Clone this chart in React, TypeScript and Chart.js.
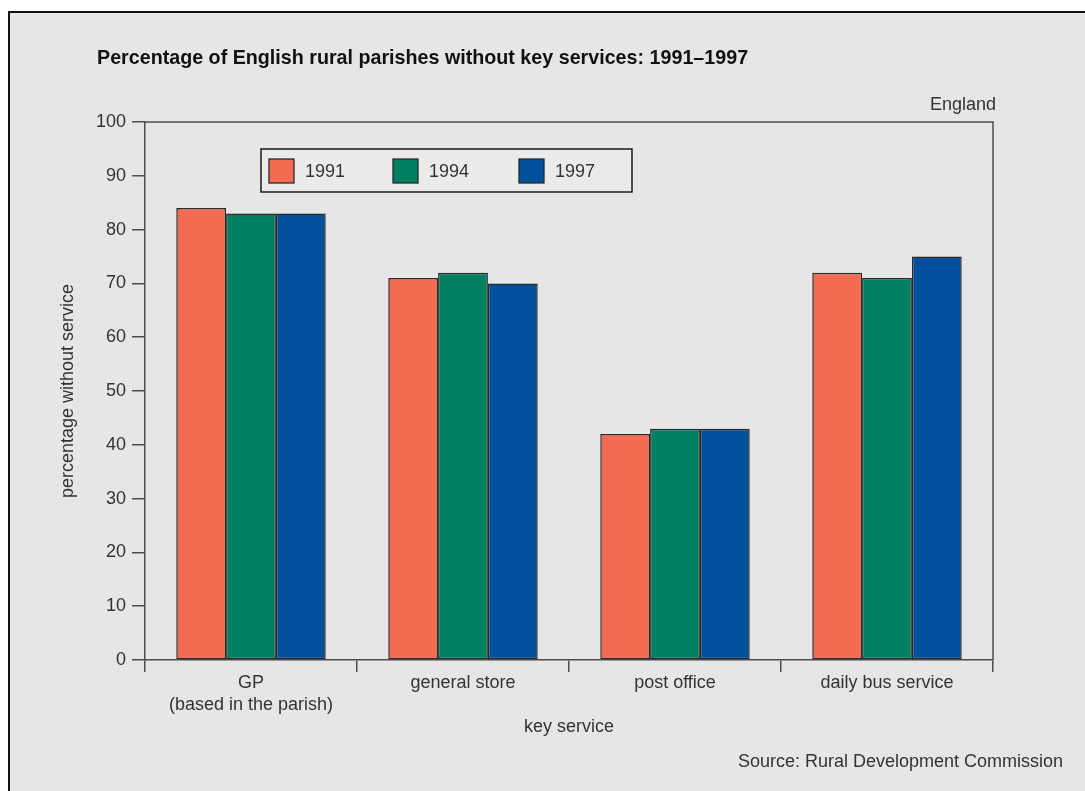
import React, { useEffect, useRef } from "react";
import { Chart, registerables } from "chart.js";

Chart.register(...registerables);

const categories: (string | string[])[] = [
  ["GP", "(based in the parish)"],
  "general store",
  "post office",
  "daily bus service",
];
const years = ["1991", "1994", "1997"];
const values1991 = [84, 71, 42, 72];
const values1994 = [83, 72, 43, 71];
const values1997 = [83, 70, 43, 75];
const colors = ["#f26b52", "#008060", "#004f9a"];
const yTicks = [0, 10, 20, 30, 40, 50, 60, 70, 80, 90, 100];

const TITLE = "Percentage of English rural parishes without key services: 1991\u20131997";
const FONT = "'Liberation Sans', Arial, Helvetica, sans-serif";
const TEXT = "#333333";
const AXIS = "#4d4d4d";

const framePlugin = {
  id: "frame",
  beforeDraw(chart: any) {
    const { ctx, width, height } = chart;
    ctx.save();
    ctx.fillStyle = "#ffffff";
    ctx.fillRect(0, 0, width, height);
    ctx.fillStyle = "#e6e6e6";
    ctx.fillRect(10, 13, width - 10, height - 13);
    ctx.strokeStyle = "#111111";
    ctx.lineWidth = 2;
    ctx.beginPath();
    ctx.moveTo(9, height);
    ctx.lineTo(9, 12);
    ctx.lineTo(width, 12);
    ctx.stroke();
    ctx.restore();
  },
  afterDraw(chart: any) {
    const { ctx, chartArea } = chart;
    const { left, right, top, bottom } = chartArea;
    ctx.save();
    ctx.strokeStyle = AXIS;
    ctx.lineWidth = 1.5;
    ctx.beginPath();
    ctx.moveTo(left, top);
    ctx.lineTo(right, top);
    ctx.lineTo(right, bottom);
    ctx.stroke();

    ctx.fillStyle = "#111111";
    ctx.font = `bold 19.7px ${FONT}`;
    ctx.textAlign = "left";
    ctx.textBaseline = "middle";
    ctx.fillText(TITLE, 97, 59);

    ctx.fillStyle = TEXT;
    ctx.font = `18px ${FONT}`;
    ctx.textAlign = "right";
    ctx.fillText("England", right + 3, 105);

    ctx.fillText("Source: Rural Development Commission", 1063, 762);

    ctx.textAlign = "center";
    ctx.fillText("key service", (left + right) / 2, 727);
    ctx.save();
    ctx.translate(68, (top + bottom) / 2);
    ctx.rotate(-Math.PI / 2);
    ctx.fillText("percentage without service", 0, 0);
    ctx.restore();

    const lx = left + 116;
    const ly = top + 27;
    const lw = 371;
    const lh = 43;
    ctx.fillStyle = "#ebebeb";
    ctx.fillRect(lx, ly, lw, lh);
    ctx.strokeStyle = "#1a1a1a";
    ctx.lineWidth = 1.5;
    ctx.strokeRect(lx, ly, lw, lh);
    const offsets = [8, 132, 258];
    chart.data.datasets.forEach((ds: any, i: number) => {
      const sx = lx + offsets[i];
      const sy = ly + 10;
      ctx.fillStyle = ds.backgroundColor;
      ctx.fillRect(sx, sy, 25, 24);
      ctx.strokeStyle = "#2a2a2a";
      ctx.lineWidth = 1.3;
      ctx.strokeRect(sx, sy, 25, 24);
      ctx.fillStyle = TEXT;
      ctx.font = `18px ${FONT}`;
      ctx.textAlign = "left";
      ctx.textBaseline = "middle";
      ctx.fillText(ds.label, sx + 36, sy + 13);
    });
    ctx.restore();
  },
};

export default function App() {
  const ref = useRef<HTMLCanvasElement>(null);
  useEffect(() => {
    if (!ref.current) return;
    const chart = new Chart(ref.current, {
      type: "bar",
      data: {
        labels: categories,
        datasets: [values1991, values1994, values1997].map((v, i) => ({
          label: years[i],
          data: v,
          backgroundColor: colors[i],
          borderColor: "#2a2a2a",
          borderWidth: 1.5,
          borderSkipped: false,
          categoryPercentage: 0.705,
          barPercentage: 1,
        })),
      },
      options: {
        responsive: false,
        animation: false,
        layout: { padding: { left: 0, top: 122, right: 92, bottom: 0 } },
        plugins: {
          legend: { display: false },
          title: { display: false },
          tooltip: { enabled: false },
        },
        scales: {
          x: {
            afterFit: (s: any) => {
              s.height = 131;
            },
            grid: {
              drawOnChartArea: false,
              offset: true,
              tickLength: 12,
              color: AXIS,
              lineWidth: 1.5,
            },
            border: { display: true, color: AXIS, width: 1.5 },
            ticks: {
              color: TEXT,
              padding: 0,
              font: { family: FONT, size: 18, lineHeight: 1.22 },
              maxRotation: 0,
              autoSkip: false,
            },
          },
          y: {
            min: 0,
            max: 100,
            afterFit: (s: any) => {
              s.width = 145;
            },
            afterBuildTicks: (s: any) => {
              s.ticks = yTicks.map((v) => ({ value: v }));
            },
            grid: {
              drawOnChartArea: false,
              tickLength: 13,
              color: AXIS,
              lineWidth: 1.5,
            },
            border: { display: true, color: AXIS, width: 1.5 },
            ticks: {
              color: TEXT,
              padding: 6,
              font: { family: FONT, size: 18 },
            },
          },
        },
      },
      plugins: [framePlugin],
    });
    return () => chart.destroy();
  }, []);
  return (
    <div style={{ position: "absolute", left: 0, top: 0, width: 1085, height: 791 }}>
      <canvas ref={ref} width={1085} height={791} style={{ display: "block" }} />
    </div>
  );
}
